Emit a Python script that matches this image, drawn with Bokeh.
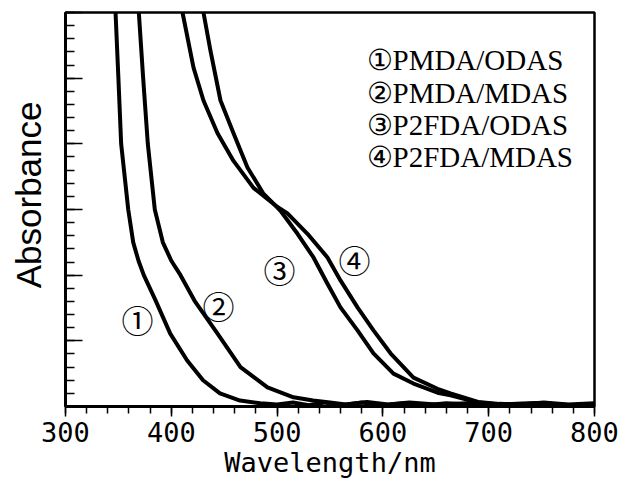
from bokeh.plotting import figure
from bokeh.models import Range1d, SingleIntervalTicker, ColumnDataSource, CustomJSTickFormatter
from bokeh.core.properties import value
from bokeh.embed import file_html
from bokeh.resources import INLINE

# ---- data ----
wl_1 = [340, 347.3, 350, 352.6, 359.3, 364, 369, 374, 385, 399, 415, 430, 446, 465, 484,
        500, 515, 530, 545, 560, 580, 600, 620, 640, 660, 690, 720, 750, 770, 800]
abs_1 = [7.2, 6.0, 5.0, 4.0, 3.0, 2.5, 2.22, 2.0, 1.62, 1.11, 0.70, 0.40, 0.20, 0.09, 0.05,
         0.03, 0.06, 0.02, 0.06, 0.02, 0.06, 0.02, 0.05, 0.02, 0.05, 0.02, 0.04, 0.05, 0.02, 0.03]

wl_2 = [364, 369.3, 373.4, 377.8, 384.4, 392, 400, 408.7, 422, 443.7, 465.4, 490.9, 515.5, 534,
        550, 565, 585, 605, 625, 650, 680, 710, 750, 780, 800]
abs_2 = [7.0, 6.0, 5.0, 4.0, 3.0, 2.5, 2.22, 2.0, 1.61, 1.11, 0.60, 0.29, 0.14, 0.09,
         0.06, 0.03, 0.07, 0.03, 0.06, 0.03, 0.05, 0.02, 0.05, 0.02, 0.04]

wl_3 = [426, 430.4, 437.0, 446.5, 458.8, 472.0, 487.1, 498.5, 503.2, 519.3, 534.4, 547.6,
        559.9, 576.0, 591.1, 610.0, 628.9, 651.6, 663.9, 690, 710, 730, 752, 775, 800]
abs_3 = [6.8, 6.0, 5.42, 4.66, 4.16, 3.64, 3.24, 3.06, 2.98, 2.63, 2.27, 1.87,
         1.51, 1.16, 0.81, 0.50, 0.35, 0.21, 0.17, 0.06, 0.03, 0.04, 0.05, 0.02, 0.04]

wl_4 = [404, 410.6, 421.0, 430.4, 443.7, 458.8, 477.7, 498.5, 509.8, 528.7, 547.6, 559.9,
        576.0, 591.1, 607.2, 628.9, 651.6, 663.9, 690, 710, 730, 752, 775, 800]
abs_4 = [7.0, 6.0, 5.16, 4.66, 4.16, 3.74, 3.33, 3.06, 2.94, 2.63, 2.27, 1.92,
         1.51, 1.16, 0.81, 0.44, 0.27, 0.20, 0.07, 0.04, 0.03, 0.06, 0.03, 0.05]

legend_labels = ["①PMDA/ODAS", "②PMDA/MDAS", "③P2FDA/ODAS", "④P2FDA/MDAS"]
curve_marks = ["①", "②", "③", "④"]

# ---- layout constants ----
legend_x = [584.5, 584.5, 584.5, 584.5]
legend_y = [5.28, 4.78, 4.28, 3.80]
mark_x = [368, 444.6, 502.3, 573.2]
mark_y = [1.34, 1.54, 2.10, 2.25]

p = figure(width=622, height=484, output_backend="svg", toolbar_location=None,
           x_range=Range1d(300, 800), y_range=Range1d(0, 6),
           min_border_left=65, min_border_right=28, min_border_top=12, min_border_bottom=78,
           background_fill_color="white", border_fill_color="white")
p.grid.visible = False
p.outline_line_color = "black"
p.outline_line_width = 2.5

for wl, ab in [(wl_1, abs_1), (wl_2, abs_2), (wl_3, abs_3), (wl_4, abs_4)]:
    p.line(wl, ab, line_color="black", line_width=4, line_join="round")

# x axis
xa = p.xaxis[0]
xa.ticker = SingleIntervalTicker(interval=100, num_minor_ticks=5)
xa.axis_line_width = 3
xa.major_tick_in = 0
xa.major_tick_out = 10
xa.minor_tick_in = 0
xa.minor_tick_out = 7
xa.major_tick_line_width = 1.5
xa.minor_tick_line_width = 1.5
xa.major_label_standoff = 5
xa.major_label_text_font = "DejaVu Sans Mono"
xa.major_label_text_font_size = "27px"
xa.major_label_text_color = "black"
xa.axis_label = "Wavelength/nm"
xa.axis_label_text_font = "DejaVu Sans Mono"
xa.axis_label_text_font_size = "27px"
xa.axis_label_text_font_style = "normal"
xa.axis_label_text_color = "black"
xa.axis_label_standoff = 2

# y axis
ya = p.yaxis[0]
ya.ticker = SingleIntervalTicker(interval=1, num_minor_ticks=5)
ya.formatter = CustomJSTickFormatter(code="return ''")
ya.axis_line_width = 3
ya.major_tick_in = 17
ya.major_tick_out = 0
ya.minor_tick_in = 9
ya.minor_tick_out = 0
ya.major_tick_line_width = 1.5
ya.minor_tick_line_width = 1.5
ya.major_label_standoff = 0
ya.axis_label = "\u00a0\u00a0\u00a0Absorbance"
ya.axis_label_text_font = "Liberation Sans"
ya.axis_label_text_font_size = "35px"
ya.axis_label_text_font_style = "normal"
ya.axis_label_text_color = "black"
ya.axis_label_standoff = 18

leg_src = ColumnDataSource(dict(x=legend_x, y=legend_y, t=legend_labels))
p.text(x="x", y="y", text="t", source=leg_src, text_align="left", text_baseline="middle",
       text_font=value("Liberation Serif"), text_font_size="29px", text_color="black")

mark_src = ColumnDataSource(dict(x=mark_x, y=mark_y, t=curve_marks))
p.text(x="x", y="y", text="t", source=mark_src, text_align="center", text_baseline="middle",
       text_font=value("Noto Sans CJK JP"), text_font_size="32px", text_color="black")

open("out.html", "w").write(file_html(p, INLINE))
